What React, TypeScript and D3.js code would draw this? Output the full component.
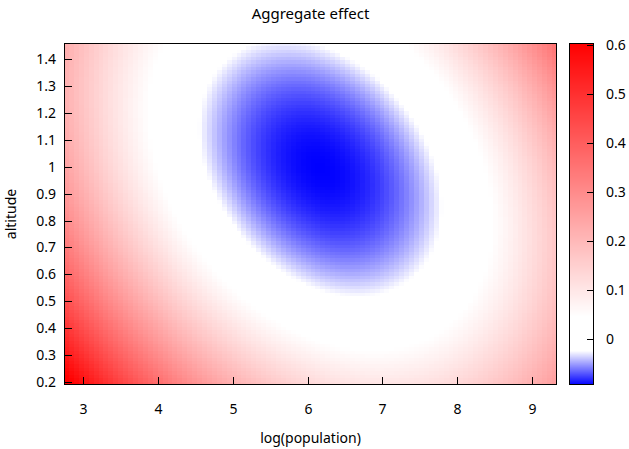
import React from "react";
import * as d3 from "d3";

// ---- data ----
// Axis tick labels
const xTicks = [3, 4, 5, 6, 7, 8, 9];
const yTicks = [0.2, 0.3, 0.4, 0.5, 0.6, 0.7, 0.8, 0.9, 1, 1.1, 1.2, 1.3, 1.4];
const cbTicks = [0, 0.1, 0.2, 0.3, 0.4, 0.5, 0.6];
// Axis extents
const xDomain = [2.742, 9.334];
const yDomain = [0.1877, 1.4607];
const cbDomain = [-0.093, 0.6035];
// Aggregate effect surface (quadratic fit):
// effect = minEffect + a*dx^2 + b*dy^2 + c*dx*dy, dx = logpop - center[0], dy = altitude - center[1]
const surfaceCenter = [6.17, 0.995];
const surfaceMin = [-0.093];
const surfaceCoef = [0.0292, 0.335, 0.0605];
// Grid resolution of the rendered surface
const gridSize = [100, 100];
// Palette stops (fraction of colour range) and colours
const paletteStops = [0, 0.1, 0.2, 1];
const paletteColors = ["#0000ff", "#ffffff", "#ffffff", "#ff0000"];

const W = 629;
const H = 449;
const plot = { left: 64, right: 557, top: 43, bottom: 385 };
const cb = { left: 569, right: 594 };
const FONT = "'Noto Sans', 'DejaVu Sans', sans-serif";

function effect(x: number, y: number) {
  const dx = x - surfaceCenter[0];
  const dy = y - surfaceCenter[1];
  return surfaceMin[0] + surfaceCoef[0] * dx * dx + surfaceCoef[1] * dy * dy + surfaceCoef[2] * dx * dy;
}

export default function App() {
  const xScale = d3.scaleLinear().domain(xDomain).range([plot.left, plot.right]);
  const yScale = d3.scaleLinear().domain(yDomain).range([plot.bottom, plot.top]);
  const cbScale = d3.scaleLinear().domain(cbDomain).range([plot.bottom, plot.top]);
  const span = cbDomain[1] - cbDomain[0];
  const color = d3
    .scaleLinear<string>()
    .domain(paletteStops.map((s) => cbDomain[0] + s * span))
    .range(paletteColors)
    .interpolate(d3.interpolateRgb)
    .clamp(true);

  const [nx, ny] = gridSize;
  const xEdges = d3.range(nx + 1).map((i) => xDomain[0] + (i / nx) * (xDomain[1] - xDomain[0]));
  const yEdges = d3.range(ny + 1).map((j) => yDomain[0] + (j / ny) * (yDomain[1] - yDomain[0]));

  const cells: JSX.Element[] = [];
  for (let i = 0; i < nx; i++) {
    const x0 = Math.round(xScale(xEdges[i]));
    const x1 = Math.round(xScale(xEdges[i + 1]));
    const xc = (xEdges[i] + xEdges[i + 1]) / 2;
    for (let j = 0; j < ny; j++) {
      const yTop = Math.round(yScale(yEdges[j + 1]));
      const yBot = Math.round(yScale(yEdges[j]));
      const yc = (yEdges[j] + yEdges[j + 1]) / 2;
      if (x1 - x0 <= 0 || yBot - yTop <= 0) continue;
      cells.push(
        <rect key={`${i}-${j}`} x={x0} y={yTop} width={x1 - x0} height={yBot - yTop} fill={color(effect(xc, yc))} />
      );
    }
  }

  const cbRects: JSX.Element[] = [];
  for (let p = plot.top; p < plot.bottom; p++) {
    const v = cbScale.invert(p + 0.5);
    cbRects.push(<rect key={p} x={cb.left} y={p} width={cb.right - cb.left} height={1} fill={color(v)} />);
  }

  return (
    <svg width={W} height={H} style={{ position: "absolute", left: 0, top: 0, background: "#fff" }} fontFamily={FONT}>
      <rect x={0} y={0} width={W} height={H} fill="#fff" />
      <g shapeRendering="crispEdges">{cells}</g>
      <g shapeRendering="crispEdges">{cbRects}</g>
      {/* plot border */}
      <rect x={plot.left + 0.5} y={plot.top + 0.5} width={plot.right - plot.left - 1} height={plot.bottom - plot.top - 1} fill="none" stroke="#000" strokeWidth={1} />
      {/* colorbar border */}
      <rect x={cb.left + 0.5} y={plot.top + 0.5} width={cb.right - cb.left - 1} height={plot.bottom - plot.top - 1} fill="none" stroke="#000" strokeWidth={1} />
      {/* x ticks */}
      {xTicks.map((t) => {
        const x = Math.round(xScale(t)) + 0.5;
        return (
          <g key={`x${t}`}>
            <line x1={x} x2={x} y1={plot.bottom} y2={plot.bottom - 8} stroke="#000" strokeWidth={1} />
            <text x={x} y={414} textAnchor="middle" fontSize={14} fill="#000">{t}</text>
          </g>
        );
      })}
      {/* y ticks */}
      {yTicks.map((t) => {
        const y = Math.round(yScale(t)) + 0.5;
        return (
          <g key={`y${t}`}>
            <line x1={plot.left} x2={plot.left + 8} y1={y} y2={y} stroke="#000" strokeWidth={1} />
            <text x={56} y={y} dy="0.35em" textAnchor="end" fontSize={14} fill="#000">{t}</text>
          </g>
        );
      })}
      {/* colorbar ticks */}
      {cbTicks.map((t) => {
        const y = Math.round(cbScale(t)) + 0.5;
        return (
          <g key={`c${t}`}>
            <line x1={cb.right - 7} x2={cb.right} y1={y} y2={y} stroke="#000" strokeWidth={1} />
            <text x={606} y={y} dy="0.35em" textAnchor="start" fontSize={14} fill="#000">{t}</text>
          </g>
        );
      })}
      <text x={310.5} y={19} textAnchor="middle" fontSize={15} fill="#000">Aggregate effect</text>
      <text x={310.5} y={443} textAnchor="middle" fontSize={14} fill="#000">log(population)</text>
      <text transform={`translate(16,214) rotate(-90)`} textAnchor="middle" fontSize={14} fill="#000">altitude</text>
    </svg>
  );
}
